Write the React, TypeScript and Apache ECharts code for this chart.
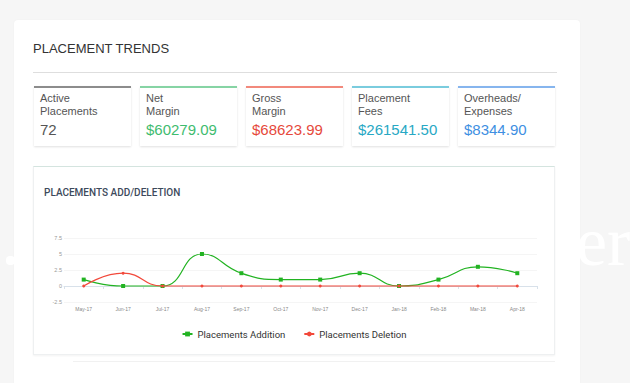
import React, { useEffect, useRef } from "react";
import * as echarts from "echarts";

const categories = ["May-17", "Jun-17", "Jul-17", "Aug-17", "Sep-17", "Oct-17", "Nov-17", "Dec-17", "Jan-18", "Feb-18", "Mar-18", "Apr-18"];
const additions = [1, 0, 0, 5, 2, 1, 1, 2, 0, 1, 3, 2];
const deletions = [0, 2, 0, 0, 0, 0, 0, 0, 0, 0, 0, 0];
const seriesNames = ["Placements Addition", "Placements Deletion"];
const yMin = -2.5;
const yMax = 7.5;
const yInterval = 2.5;

const statLabels = [["Active", "Placements"], ["Net", "Margin"], ["Gross", "Margin"], ["Placement", "Fees"], ["Overheads/", "Expenses"]];
const statValues = ["72", "$60279.09", "$68623.99", "$261541.50", "$8344.90"];
const statBorderColors = ["#8c8c8c", "#86d4a4", "#f2897c", "#7accde", "#86b5ee"];
const statValueColors = ["#555555", "#3fbc6f", "#e6493b", "#27a8c4", "#3e8fe2"];
const statLefts = [34, 140, 246, 352, 458];

const SANS = "'Liberation Sans', Arial, Helvetica, sans-serif";

function Chart() {
  const ref = useRef<HTMLDivElement>(null);
  useEffect(() => {
    if (!ref.current) return;
    const chart = echarts.init(ref.current, undefined, { renderer: "svg" });
    chart.setOption({
      animation: false,
      grid: { left: 31, right: 18, top: 72, bottom: 53, containLabel: false },
      legend: {
        data: seriesNames,
        top: 158,
        left: "center",
        itemWidth: 10,
        itemHeight: 6,
        itemGap: 18,
        textStyle: { fontSize: 9.5, color: "#333", fontFamily: "Roboto, sans-serif" },
      },
      xAxis: {
        type: "category",
        data: categories,
        boundaryGap: true,
        axisLine: { lineStyle: { color: "#d8e1ea", width: 1 } },
        axisTick: { show: true, length: 3, lineStyle: { color: "#d8e1ea" } },
        axisLabel: { fontSize: 5, color: "#888", margin: 4, interval: 0, fontFamily: SANS },
        splitLine: { show: false },
      },
      yAxis: {
        type: "value",
        min: yMin,
        max: yMax,
        interval: yInterval,
        axisLine: { show: false },
        axisTick: { show: false },
        axisLabel: { fontSize: 5.5, color: "#999", margin: 2, fontFamily: SANS },
        splitLine: { show: true, lineStyle: { color: "#f5f5f5", width: 1 } },
      },
      series: [
        {
          name: seriesNames[0],
          type: "line",
          data: additions,
          smooth: true,
          symbol: "rect",
          symbolSize: 4,
          lineStyle: { color: "#22b322", width: 1.2 },
          itemStyle: { color: "#22b322" },
          z: 2,
        },
        {
          name: seriesNames[1],
          type: "line",
          data: deletions,
          smooth: true,
          symbol: "circle",
          symbolSize: 3,
          lineStyle: { color: "#f2493b", width: 1.2 },
          itemStyle: { color: "#f2493b" },
          z: 3,
        },
      ],
    });
    return () => chart.dispose();
  }, []);
  return <div ref={ref} style={{ position: "absolute", left: 0, top: 0, width: 522, height: 189 }} />;
}

export default function App() {
  return (
    <div style={{ position: "fixed", left: 0, top: 0, width: 630, height: 383, background: "#f6f6f6", overflow: "hidden", fontFamily: SANS }}>
      {/* card */}
      <div style={{ position: "absolute", left: 14, top: 20, width: 566, height: 380, background: "#ffffff", borderTopLeftRadius: 4, borderTopRightRadius: 4, boxShadow: "0 0 2px rgba(0,0,0,0.04)" }} />
      <div style={{ position: "absolute", left: 33, top: 41, fontSize: 13, color: "#333", lineHeight: "16px", whiteSpace: "nowrap" }}>PLACEMENT TRENDS</div>
      <div style={{ position: "absolute", left: 33, top: 72, width: 524, height: 1, background: "#dedede" }} />
      {statLabels.map((lab, i) => (
        <div key={i} style={{ position: "absolute", left: statLefts[i], top: 86, width: 97, height: 60, boxSizing: "border-box", background: "#fff", borderTop: `2px solid ${statBorderColors[i]}`, boxShadow: "0 1px 2px rgba(0,0,0,0.12)", padding: "4px 6px 0 6px" }}>
          <div style={{ fontSize: 11, lineHeight: "12.7px", color: "#555", whiteSpace: "nowrap" }}>{lab[0]}</div>
          <div style={{ fontSize: 11, lineHeight: "12.7px", color: "#555", whiteSpace: "nowrap" }}>{lab[1]}</div>
          <div style={{ fontSize: 15, lineHeight: "18px", marginTop: 4, color: statValueColors[i], whiteSpace: "nowrap" }}>{statValues[i]}</div>
        </div>
      ))}
      {/* chart panel */}
      <div style={{ position: "absolute", left: 33, top: 166, width: 522, height: 189, boxSizing: "border-box", background: "#fff", border: "1px solid #eef0f1", borderTop: "1px solid #d4e4df", boxShadow: "0 1px 2px rgba(0,0,0,0.05)" }} />
      <div style={{ position: "absolute", left: 73, top: 361, width: 482, height: 1, background: "#f1f1f1" }} />
      <div style={{ position: "absolute", left: 44, top: 187, fontSize: 10, fontWeight: 500, color: "#3d4a5c", lineHeight: "12px", whiteSpace: "nowrap", fontFamily: "Roboto, sans-serif" }}>PLACEMENTS ADD/DELETION</div>
      <div style={{ position: "absolute", left: 33, top: 166, width: 522, height: 189 }}>
        <Chart />
      </div>
      {/* white overlay artefact */}
      <div style={{ position: "absolute", left: 576, top: 202, fontSize: 70, lineHeight: "80px", color: "#ffffff", fontFamily: "'Liberation Serif', 'DejaVu Serif', serif", whiteSpace: "nowrap" }}>er</div>
      <div style={{ position: "absolute", left: 6, top: 256, width: 9, height: 9, borderRadius: 4, background: "#ffffff" }} />
    </div>
  );
}
